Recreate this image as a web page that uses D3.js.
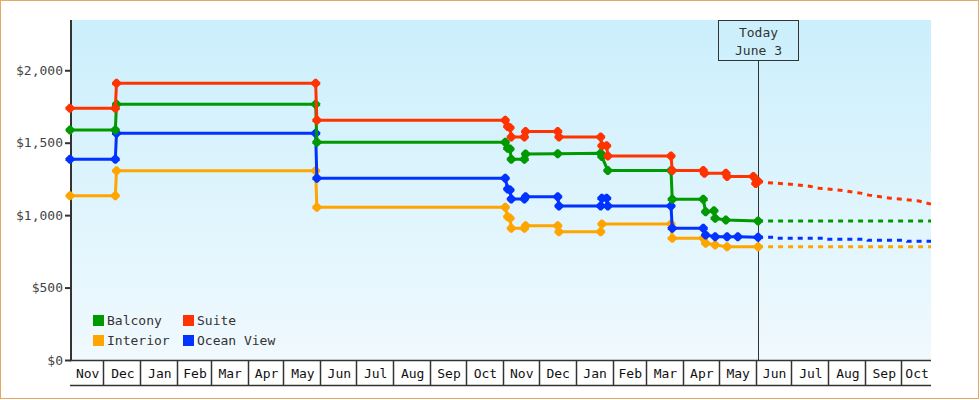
<!DOCTYPE html>
<html>
<head>
<meta charset="utf-8">
<script src="https://cdn.jsdelivr.net/npm/d3@7"></script>
<style>
  body { margin: 0; background: #fff; }
  svg { display: block; font-family: "DejaVu Sans Mono", monospace; }
</style>
</head>
<body>
<svg id="chart" width="980" height="400"></svg>
<script>
// data
const startDate = "2013-11-03";
const endDate = "2015-10-26";
const todayDate = "2015-06-03";
const todayLabel = ["Today", "June 3"];
const yTicks = [0, 500, 1000, 1500, 2000];
const yMax = 2347;

const seriesNames = ["Balcony", "Suite", "Interior", "Ocean View"];
const seriesColors = ["#009900", "#ff3300", "#ffa500", "#0033ff"];

const balconyActual = [
  ["2013-11-03", 1588], ["2013-12-11", 1588], ["2013-12-12", 1765], ["2014-05-28", 1765],
  ["2014-05-29", 1503], ["2014-11-03", 1503], ["2014-11-05", 1462], ["2014-11-07", 1457],
  ["2014-11-08", 1386], ["2014-11-19", 1386], ["2014-11-20", 1422], ["2014-12-17", 1424],
  ["2015-01-22", 1427], ["2015-01-23", 1404], ["2015-01-28", 1308], ["2015-03-22", 1308],
  ["2015-03-23", 1109], ["2015-04-18", 1109], ["2015-04-20", 1024], ["2015-04-27", 1030],
  ["2015-04-28", 978], ["2015-05-07", 967], ["2015-06-03", 960]
];
const balconyForecast = [["2015-06-03", 960], ["2015-10-26", 960]];

const suiteActual = [
  ["2013-11-03", 1738], ["2013-12-11", 1738], ["2013-12-12", 1910], ["2014-05-28", 1910],
  ["2014-05-29", 1655], ["2014-11-03", 1655], ["2014-11-05", 1611], ["2014-11-07", 1604],
  ["2014-11-08", 1540], ["2014-11-19", 1540], ["2014-11-20", 1578], ["2014-12-17", 1578],
  ["2014-12-18", 1540], ["2015-01-22", 1540], ["2015-01-23", 1479], ["2015-01-27", 1479],
  ["2015-01-28", 1408], ["2015-03-22", 1408], ["2015-03-23", 1308], ["2015-04-18", 1308],
  ["2015-04-19", 1289], ["2015-05-07", 1289], ["2015-05-08", 1266], ["2015-05-30", 1266],
  ["2015-06-01", 1218], ["2015-06-02", 1226], ["2015-06-03", 1234]
];
const suiteForecast = [
  ["2015-06-03", 1234], ["2015-06-11", 1224], ["2015-06-30", 1214], ["2015-07-16", 1200],
  ["2015-07-24", 1186], ["2015-08-11", 1172], ["2015-08-28", 1152], ["2015-09-04", 1138],
  ["2015-09-22", 1117], ["2015-10-16", 1097], ["2015-10-26", 1076]
];

const interiorActual = [
  ["2013-11-03", 1134], ["2013-12-11", 1134], ["2013-12-12", 1307], ["2014-05-28", 1307],
  ["2014-05-29", 1054], ["2014-11-03", 1054], ["2014-11-05", 989], ["2014-11-07", 978],
  ["2014-11-08", 909], ["2014-11-19", 909], ["2014-11-20", 927], ["2014-12-17", 927],
  ["2014-12-18", 886], ["2015-01-22", 886], ["2015-01-23", 939], ["2015-03-22", 939],
  ["2015-03-23", 840], ["2015-04-18", 840], ["2015-04-20", 806], ["2015-04-28", 794],
  ["2015-05-08", 782], ["2015-06-03", 782]
];
const interiorForecast = [["2015-06-03", 782], ["2015-10-26", 782]];

const oceanActual = [
  ["2013-11-03", 1386], ["2013-12-11", 1386], ["2013-12-12", 1565], ["2014-05-28", 1565],
  ["2014-05-29", 1254], ["2014-11-03", 1254], ["2014-11-05", 1181], ["2014-11-07", 1174],
  ["2014-11-08", 1111], ["2014-11-19", 1111], ["2014-11-20", 1127], ["2014-12-17", 1127],
  ["2014-12-18", 1063], ["2015-01-22", 1063], ["2015-01-23", 1116], ["2015-01-27", 1116],
  ["2015-01-28", 1063], ["2015-03-22", 1063], ["2015-03-23", 909], ["2015-04-18", 909],
  ["2015-04-20", 863], ["2015-04-28", 851], ["2015-05-08", 851], ["2015-05-17", 851],
  ["2015-06-03", 847]
];
const oceanForecast = [
  ["2015-06-03", 847], ["2015-06-18", 847], ["2015-06-19", 840], ["2015-07-30", 840],
  ["2015-07-31", 833], ["2015-09-02", 833], ["2015-09-03", 826], ["2015-10-05", 826],
  ["2015-10-06", 819], ["2015-10-26", 819]
];

const parse = d3.utcParse("%Y-%m-%d");
const plotLeft = 70, plotRight = 931, plotTop = 20, plotBottom = 360;

const svg = d3.select("#chart");

// outer frame
svg.append("rect")
  .attr("x", 0.5).attr("y", 0.5).attr("width", 978).attr("height", 398)
  .attr("fill", "#fff").attr("stroke", "#e6a862");

const defs = svg.append("defs");
const grad = defs.append("linearGradient").attr("id", "bg").attr("x1", 0).attr("y1", 0).attr("x2", 0).attr("y2", 1);
grad.append("stop").attr("offset", "0%").attr("stop-color", "#cbeffc");
grad.append("stop").attr("offset", "100%").attr("stop-color", "#f0f9fe");

svg.append("rect")
  .attr("x", plotLeft).attr("y", plotTop).attr("width", plotRight - plotLeft).attr("height", plotBottom - plotTop)
  .attr("fill", "url(#bg)");

const x = d3.scaleUtc().domain([parse(startDate), parse(endDate)]).range([plotLeft, plotRight]);
const y = d3.scaleLinear().domain([0, yMax]).range([plotBottom, plotTop]);

// y axis
const yAxis = svg.append("g")
  .attr("transform", `translate(${plotLeft + 1},0)`)
  .call(d3.axisLeft(y).tickValues(yTicks).tickSize(6).tickSizeOuter(0)
    .tickFormat(d => "$" + d3.format(",")(d)));
yAxis.select(".domain").remove();
yAxis.selectAll(".tick line").attr("stroke", "#333").attr("stroke-width", 2);
yAxis.selectAll(".tick text")
  .attr("x", -8).attr("fill", "#444")
  .style("font-family", "DejaVu Sans Mono, monospace").style("font-size", "13px");
svg.append("line")
  .attr("x1", plotLeft + 1).attr("x2", plotLeft + 1).attr("y1", plotTop).attr("y2", plotBottom + 1)
  .attr("stroke", "#333").attr("stroke-width", 2);

// month strip
const strip = svg.append("g");
strip.append("line")
  .attr("x1", plotLeft).attr("x2", plotRight).attr("y1", plotBottom + 0.5).attr("y2", plotBottom + 0.5)
  .attr("stroke", "#333").attr("stroke-width", 1.5);
strip.append("line")
  .attr("x1", plotLeft).attr("x2", plotRight).attr("y1", 385.5).attr("y2", 385.5)
  .attr("stroke", "#333").attr("stroke-width", 1.5);
const monthStarts = d3.utcMonth.range(parse(startDate), parse(endDate));
strip.selectAll(".sep")
  .data(monthStarts)
  .enter().append("line")
  .attr("x1", d => Math.round(x(d)) + 0.5).attr("x2", d => Math.round(x(d)) + 0.5)
  .attr("y1", plotBottom).attr("y2", 386)
  .attr("stroke", "#333").attr("stroke-width", 1.5);
const monthCells = [parse(startDate)].concat(monthStarts);
strip.selectAll(".mlabel")
  .data(monthCells)
  .enter().append("text")
  .attr("x", (d, i) => {
    const next = i + 1 < monthCells.length ? monthCells[i + 1] : parse(endDate);
    return (x(d) + x(next)) / 2 + 1;
  })
  .attr("y", 378)
  .attr("text-anchor", "middle")
  .attr("font-size", "13px")
  .attr("fill", "#111")
  .text(d => d3.utcFormat("%b")(d));

// today marker
const tx = Math.round(x(parse(todayDate))) + 0.5;
svg.append("line")
  .attr("x1", tx).attr("x2", tx).attr("y1", 60).attr("y2", plotBottom)
  .attr("stroke", "#333").attr("stroke-width", 1);
svg.append("rect")
  .attr("x", tx - 40).attr("y", 20.5).attr("width", 80).attr("height", 40)
  .attr("fill", "none").attr("stroke", "#333");
svg.selectAll(".today")
  .data(todayLabel)
  .enter().append("text")
  .attr("x", tx).attr("y", (d, i) => 37 + i * 18)
  .attr("text-anchor", "middle").attr("font-size", "13px").attr("fill", "#333")
  .text(d => d);

// series
const line = d3.line().x(d => x(parse(d[0]))).y(d => y(d[1]));
const diamond = "M-1,-4.5L1,-4.5L4.5,-1L4.5,1L1,4.5L-1,4.5L-4.5,1L-4.5,-1Z";

const series = [
  { actual: interiorActual, forecast: interiorForecast, color: seriesColors[2] },
  { actual: oceanActual, forecast: oceanForecast, color: seriesColors[3] },
  { actual: balconyActual, forecast: balconyForecast, color: seriesColors[0] },
  { actual: suiteActual, forecast: suiteForecast, color: seriesColors[1] }
];

series.forEach(s => {
  const g = svg.append("g");
  g.append("path")
    .attr("d", line(s.forecast))
    .attr("fill", "none").attr("stroke", s.color).attr("stroke-width", 3)
    .attr("stroke-dasharray", "5,5");
  g.append("path")
    .attr("d", line(s.actual))
    .attr("fill", "none").attr("stroke", s.color).attr("stroke-width", 3);
  g.selectAll(".pt")
    .data(s.actual)
    .enter().append("path")
    .attr("d", diamond)
    .attr("transform", d => `translate(${x(parse(d[0]))},${y(d[1])})`)
    .attr("fill", s.color);
});

// legend
const legend = svg.append("g");
const legendPos = [[93, 315], [183, 315], [93, 335], [183, 335]];
seriesNames.forEach((name, i) => {
  const [lx, ly] = legendPos[i];
  legend.append("rect")
    .attr("x", lx).attr("y", ly).attr("width", 11).attr("height", 11)
    .attr("fill", seriesColors[i]);
  legend.append("text")
    .attr("x", lx + 14).attr("y", ly + 10)
    .attr("font-size", "13px").attr("fill", "#333")
    .text(name);
});
</script>
</body>
</html>
